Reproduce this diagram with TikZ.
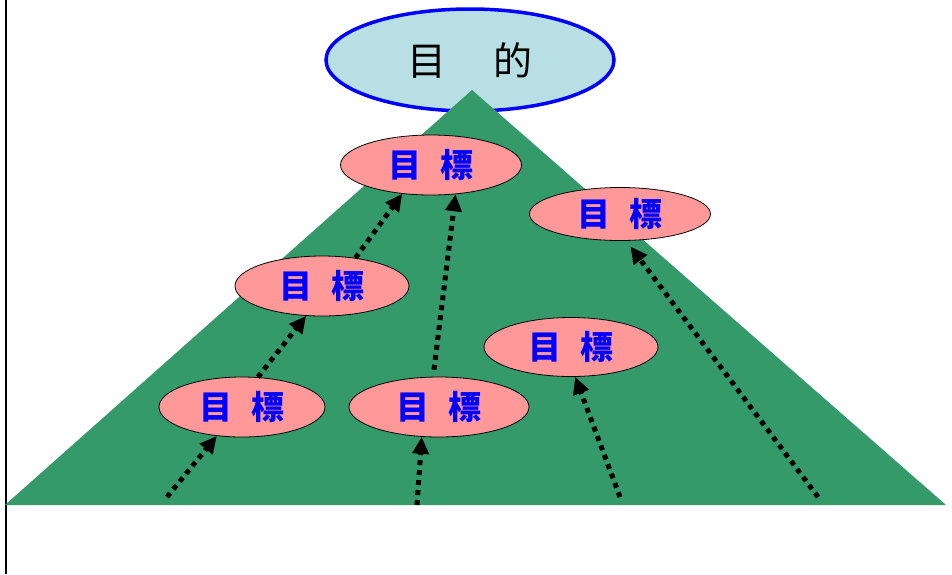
\documentclass[tikz,border=0pt]{standalone}
\usepackage{fontspec}
\newfontfamily\cjk{Noto Sans CJK JP}
\newfontfamily\cjkb{Noto Sans CJK JP Black}
\usetikzlibrary{arrows.meta,shapes.geometric}
\definecolor{pyr}{HTML}{359A69}
\definecolor{goalfill}{HTML}{FF9999}
\definecolor{purpfill}{HTML}{B8DFE3}
\tikzset{
  goal/.style={ellipse, draw=black, line width=0.8pt, fill=goalfill, inner sep=0pt,
    font=\cjkb\fontsize{33}{33}\selectfont, text=blue},
  uparrow/.style={line width=5pt, dash pattern=on 5pt off 5pt,
    -{Triangle[length=17pt,width=16pt]}},
}
\begin{document}
\begin{tikzpicture}[x=1pt,y=-1pt]
\useasboundingbox (0,0) rectangle (952,574);
\draw[line width=2pt] (6,0) -- (6,574);
% top purpose ellipse
\node[ellipse, draw=blue, line width=3.5pt, fill=purpfill, minimum width=288pt, minimum height=102pt, inner sep=0pt,
  font=\cjk\fontsize{39}{39}\selectfont] (purpose) at (470,60) {目\hspace{1.2em}的};
% pyramid
\fill[pyr] (472,90) -- (946,505) -- (5,505) -- cycle;
% goal ellipses
\node[goal, minimum width=181pt, minimum height=60pt] (g1) at (431,165) {目\hspace{0.55em}標};
\node[goal, minimum width=181pt, minimum height=53pt] (g2) at (620,214) {目\hspace{0.55em}標};
\node[goal, minimum width=174pt, minimum height=60pt] (g3) at (322,286) {目\hspace{0.55em}標};
\node[goal, minimum width=174pt, minimum height=59pt] (g4) at (571,347) {目\hspace{0.55em}標};
\node[goal, minimum width=166pt, minimum height=60pt] (g5) at (242,407) {目\hspace{0.55em}標};
\node[goal, minimum width=180pt, minimum height=60pt] (g6) at (439,407) {目\hspace{0.55em}標};
% start points on the base
\coordinate (s1) at (167,497);
\coordinate (s2) at (417,505);
\coordinate (s3) at (620,497);
\coordinate (s4) at (818,497);
% arrows
\draw[uparrow] (s1) -- (g5.229);
\draw[uparrow] (g5.62) -- (g3.242);
\draw[uparrow] (g3.40) -- (g1.225);
\draw[uparrow, shorten <=7pt] (g6.101) -- (g1.310);
\draw[uparrow] (s2) -- (g6.240);
\draw[uparrow] (s3) -- (g4.278);
\draw[uparrow, shorten >=7pt] (s4) -- (g2.283);
\end{tikzpicture}
\end{document}
